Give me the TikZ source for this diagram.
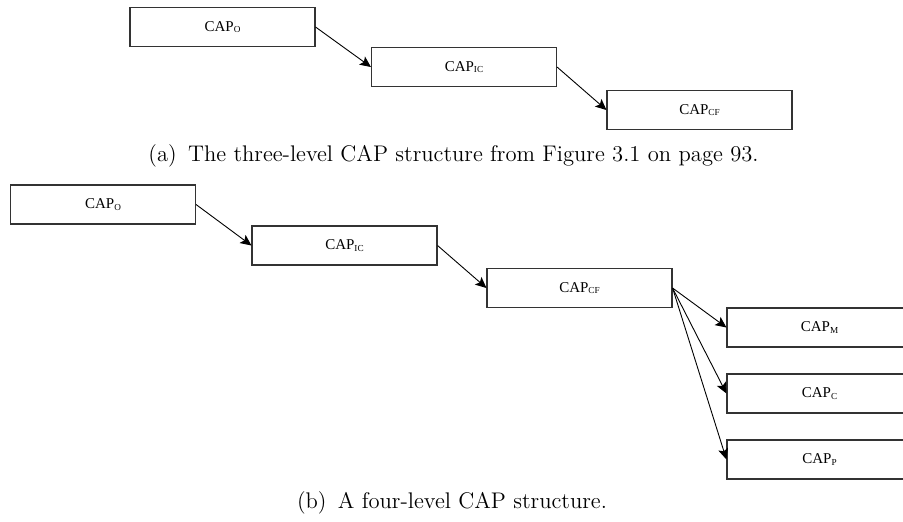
\documentclass[tikz,border=0pt]{standalone}
\usepackage{fontspec}
\newfontfamily\boxfont{Liberation Serif}
\usetikzlibrary{arrows.meta}

% CAP with a small lowered subscript, as set in the boxes
\newcommand{\capsub}[1]{CAP\raisebox{-0.8pt}{\fontsize{4.6}{5}\selectfont #1}}

\tikzset{
  capbox/.style={draw=black!80, line width=0.55pt, rectangle,
    minimum width=92.5pt, minimum height=19.5pt, inner sep=0pt,
    font=\boxfont\fontsize{7.5}{9}\selectfont},
  link/.style={line width=0.45pt, -{Stealth[length=5.5pt,width=5pt,inset=1.2pt]}},
  subcap/.style={font=\fontsize{11.3}{13}\selectfont, inner sep=0pt}
}

\begin{document}
\begin{tikzpicture}[x=0.5pt,y=-0.5pt]
  \useasboundingbox (0,0) rectangle (903,521);

  % (a) three-level structure
  \node[capbox] (ao)  at (222.5,27)  {\capsub{O}};
  \node[capbox] (aic) at (464,67)    {\capsub{IC}};
  \node[capbox] (acf) at (699.5,110) {\capsub{CF}};
  \draw[link] (ao.east)  -- (aic.west);
  \draw[link] (aic.east) -- (acf.west);
  \node[subcap] (capa) at (453.5,156) {(a)\enspace The three-level CAP structure from Figure 3.1 on page 93.};

  % (b) four-level structure
  \node[capbox] (bo)  at (103,204.5)   {\capsub{O}};
  \node[capbox] (bic) at (344.5,245.5) {\capsub{IC}};
  \node[capbox] (bcf) at (579.5,288)   {\capsub{CF}};
  \node[capbox] (bm)  at (819.5,327.5) {\capsub{M}};
  \node[capbox] (bc)  at (819.5,393.5) {\capsub{C}};
  \node[capbox] (bp)  at (819.5,459.5) {\capsub{P}};
  \draw[link] (bo.east)  -- (bic.west);
  \draw[link] (bic.east) -- (bcf.west);
  \draw[link] (bcf.east) -- (bm.west);
  \draw[link] (bcf.east) -- (bc.west);
  \draw[link] (bcf.east) -- (bp.west);
  \node[subcap] (capb) at (452,503) {(b)\enspace A four-level CAP structure.};
\end{tikzpicture}
\end{document}
